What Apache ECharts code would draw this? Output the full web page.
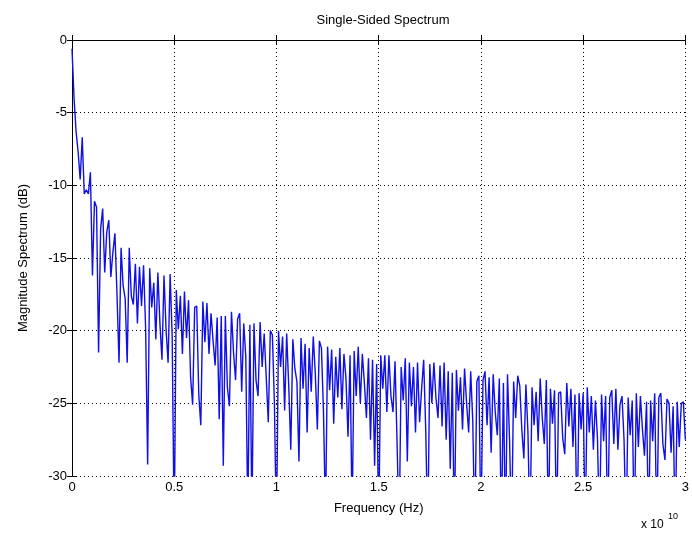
<!DOCTYPE html>
<html>
<head>
<meta charset="utf-8">
<script src="https://cdn.jsdelivr.net/npm/echarts@6/dist/echarts.min.js"></script>
<style>
  html, body { margin: 0; padding: 0; background: #fff; }
  #spectrum { width: 692px; height: 538px; }
</style>
</head>
<body>
<div id="spectrum"></div>
<script>
// frequency axis in units of 1e10 Hz, one sample every 0.01
var freqStep = 0.01;
var xTicks = [0, 0.5, 1, 1.5, 2, 2.5, 3];
var yTicks = [-30, -25, -20, -15, -10, -5, 0];

// magnitude (dB), 0 .. 0.99
var magFirst = [
    -0.6, -4.0, -6.3, -7.7, -9.6, -6.7, -10.6, -10.3, -10.6, -9.1,
    -16.2, -11.1, -11.5, -21.5, -13.0, -11.6, -16.0, -13.2, -12.4, -16.3,
    -14.6, -13.3, -17.5, -22.2, -14.3, -16.9, -17.8, -22.2, -14.3, -17.6,
    -18.2, -15.4, -19.5, -15.6, -18.3, -15.5, -19.8, -29.2, -15.7, -18.4,
    -16.7, -20.6, -16.0, -19.5, -22.0, -16.2, -19.9, -22.2, -16.1, -20.4,
    -34, -17.2, -19.9, -17.6, -21.6, -17.3, -20.5, -17.9, -23.2, -25.1,
    -18.4, -18.3, -24.4, -26.5, -18.0, -20.8, -18.1, -21.6, -18.8, -20.7,
    -22.4, -19.1, -26.1, -19.0, -29.3, -19.0, -23.9, -25.2, -18.7, -21.5,
    -23.4, -19.2, -18.8, -24.2, -19.5, -21.8, -33, -19.6, -33, -19.5,
    -23.4, -24.5, -19.4, -22.5, -20.2, -23.2, -26.3, -20.0, -20.3, -25.0
];
// 1.00 .. 1.99
var magSecond = [
    -34, -20.0, -22.5, -20.4, -25.5, -20.2, -23.8, -28.2, -20.6, -22.6,
    -23.5, -29.0, -20.5, -24.0, -20.9, -27.0, -21.2, -24.2, -20.4, -23.0,
    -26.8, -20.7, -21.2, -25.6, -33, -21.1, -24.1, -21.3, -26.4, -21.8,
    -24.6, -21.2, -25.4, -21.6, -23.3, -27.3, -21.7, -33, -21.4, -24.5,
    -21.1, -25.0, -21.6, -23.6, -26.0, -21.9, -27.5, -22.0, -29.3, -22.3,
    -34, -21.7, -24.0, -21.7, -25.6, -21.7, -24.5, -25.6, -22.1, -27.8,
    -34, -22.5, -24.8, -21.9, -29.0, -22.2, -25.2, -22.5, -27.0, -22.2,
    -26.3, -24.0, -22.0, -26.8, -34, -22.3, -25.0, -22.2, -24.6, -26.0,
    -22.4, -26.6, -22.2, -27.5, -22.8, -29.5, -22.9, -34, -22.7, -25.5,
    -23.2, -26.8, -22.6, -25.0, -27.0, -22.8, -26.2, -34, -23.5, -23.1
];
// 2.00 .. 3.00
var magThird = [
    -34, -23.4, -22.8, -26.5, -23.2, -28.4, -23.0, -25.6, -27.2, -23.3,
    -34, -23.6, -34, -23.0, -27.5, -34, -23.5, -26.0, -23.1, -23.8,
    -26.8, -28.8, -23.7, -27.0, -34, -23.9, -26.5, -24.2, -27.6, -23.3,
    -26.0, -27.8, -23.4, -34, -24.0, -26.4, -24.1, -34, -24.3, -24.2,
    -27.4, -28.5, -23.6, -26.6, -24.0, -28.0, -24.4, -34, -24.3, -26.8,
    -24.3, -34, -23.9, -27.0, -24.5, -28.2, -24.8, -27.4, -34, -24.4,
    -27.6, -24.5, -34, -24.6, -24.1, -27.8, -24.0, -28.2, -25.1, -24.5,
    -27.5, -34, -24.6, -27.2, -24.8, -34, -24.3, -28.0, -24.5, -26.8,
    -28.6, -24.9, -34, -24.8, -27.6, -24.3, -34, -24.6, -24.3, -27.8,
    -28.9, -24.7, -25.0, -28.4, -25.2, -34, -24.9, -28.0, -25.0, -24.9,
    -27.5
];

var magDb = magFirst.concat(magSecond, magThird);
var points = [];
for (var i = 0; i < magDb.length; i++) {
    points.push([+(i * freqStep).toFixed(2), magDb[i]]);
}

var font = 'Liberation Sans, Arial, sans-serif';
var myChart = echarts.init(document.getElementById('spectrum'), null, { renderer: 'canvas' });

var boxAxis = {
    axisLine: { show: true, lineStyle: { color: '#000', width: 1 } },
    axisTick: { show: true, inside: true, length: 5, lineStyle: { color: '#000' } },
    axisLabel: { show: false },
    splitLine: { show: false }
};

option = {
    animation: false,
    backgroundColor: '#fff',
    title: {
        text: 'Single-Sided Spectrum',
        left: 378,
        textAlign: 'center',
        top: 9,
        textStyle: { fontFamily: font, fontSize: 13, fontWeight: 'normal', color: '#000' }
    },
    grid: { left: 72, right: 6, top: 40, bottom: 62 },
    xAxis: [
        {
            type: 'value',
            min: xTicks[0],
            max: xTicks[xTicks.length - 1],
            interval: 0.5,
            name: 'Frequency (Hz)',
            nameLocation: 'middle',
            nameGap: 26,
            nameTextStyle: { fontFamily: font, fontSize: 13, color: '#000' },
            axisLine: { show: true, lineStyle: { color: '#000', width: 1 } },
            axisTick: { show: true, inside: true, length: 5, lineStyle: { color: '#000' } },   // ticks point inward
            axisLabel: { fontFamily: font, fontSize: 13, color: '#000', margin: 5 },
            splitLine: { show: true, lineStyle: { color: '#000', type: [1, 3], width: 1 } }
        },
        echarts.util.merge({ type: 'value', position: 'top', min: 0, max: 3, interval: 0.5 }, boxAxis, true)
    ],
    yAxis: [
        {
            type: 'value',
            min: yTicks[0],
            max: yTicks[yTicks.length - 1],
            interval: 5,
            name: 'Magnitude Spectrum (dB)',
            nameLocation: 'middle',
            nameGap: 42,
            nameTextStyle: { fontFamily: font, fontSize: 13, color: '#000' },
            axisLine: { show: true, lineStyle: { color: '#000', width: 1 } },
            axisTick: { show: true, inside: true, length: 5, lineStyle: { color: '#000' } },
            axisLabel: { fontFamily: font, fontSize: 13, color: '#000', margin: 5 },
            splitLine: { show: true, lineStyle: { color: '#000', type: [1, 3], width: 1 } }
        },
        echarts.util.merge({ type: 'value', position: 'right', min: -30, max: 0, interval: 5 }, boxAxis, true)
    ],
    graphic: [
        { type: 'text', left: 641, top: 519, style: { text: 'x 10', font: '12px ' + font, fill: '#000' } },
        { type: 'text', left: 668, top: 512, style: { text: '10', font: '9px ' + font, fill: '#000' } }
    ],
    series: [
        {
            type: 'line',
            data: points,
            showSymbol: false,
            symbol: 'none',
            clip: true,
            lineStyle: { color: '#1010e6', width: 1.4 }
        }
    ]
};
myChart.setOption(option);
</script>
</body>
</html>
